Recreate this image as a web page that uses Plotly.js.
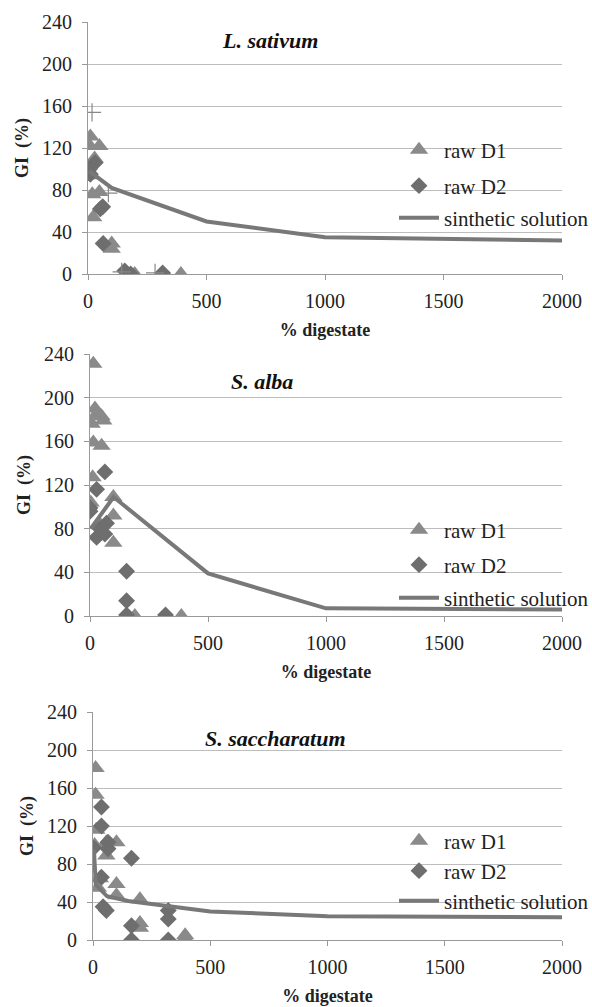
<!DOCTYPE html>
<html>
<head>
<meta charset="utf-8">
<script src="https://cdn.plot.ly/plotly-3.0.1.min.js"></script>
<style>html,body{margin:0;padding:0;background:#fff;}#chart{width:592px;height:1007px;}</style>
</head>
<body>
<div id="chart"></div>
<script>
// ---- Text ----
const panelTitles = ["L. sativum", "S. alba", "S. saccharatum"];
const seriesNames = ["raw D1", "raw D2", "sinthetic solution"];
const yTicks = [0, 40, 80, 120, 160, 200, 240];
const xTicks = [0, 500, 1000, 1500, 2000];

// ---- Panel 1: L. sativum ----
const p1_d1_x = [10, 8, 48, 28, 18, 48, 22, 12, 100, 100, 197, 392];
const p1_d1_y = [131, 122, 122, 110, 76, 78, 54, 94, 29, 24, 0, 0];
const p1_d2_x = [0, 6, 30, 62, 52, 64, 155, 180, 315, 10];
const p1_d2_y = [98, 100, 106, 64, 62, 29, 3, 0, 1, 95];
const p1_cross_x = [17, 86, 283, 142];
const p1_cross_y = [154, 77, 1, 2];
const p1_syn_x = [5, 100, 500, 1000, 2000];
const p1_syn_y = [98, 82, 50, 35, 32];

// ---- Panel 2: S. alba ----
const p2_d1_x = [14, 21, 28, 49, 56, 7, 14, 49, 11, 3, 99, 99, 99, 42, 190, 387];
const p2_d1_y = [231, 190, 185, 183, 179, 176, 159, 156, 127, 104, 109, 92, 67, 84, 0, 0];
const p2_d2_x = [63, 28, 0, 0, 28, 42, 63, 70, 155, 155, 155, 320];
const p2_d2_y = [132, 116, 99, 96, 72, 80, 75, 85, 41, 14, 1, 1];
const p2_syn_x = [3, 100, 500, 1000, 2000];
const p2_syn_y = [80, 109, 39, 7, 6];

// ---- Panel 3: S. saccharatum ----
const p3_d1_x = [11, 11, 14, 7, 57, 57, 100, 29, 21, 100, 100, 200, 200, 200, 393, 393];
const p3_d1_y = [181, 153, 116, 100, 89, 103, 103, 65, 55, 59, 47, 43, 18, 13, 5, 2];
const p3_d2_x = [36, 36, 3, 64, 64, 36, 57, 43, 164, 164, 164, 321, 321, 321];
const p3_d2_y = [140, 120, 97, 103, 96, 66, 31, 35, 86, 15, 0, 31, 22, 0];
const p3_syn_x = [4, 12, 60, 150, 500, 1000, 2000];
const p3_syn_y = [95, 58, 46, 41, 30, 25, 24];

const W = 592, H = 1007;
const triColor = '#8a8a8a', diaColor = '#6e6e6e', lineColor = '#787878';
const serif = 'Liberation Serif';

const geom = [
  [88, 562, 22, 274],
  [90, 562, 354, 616],
  [93, 562, 712, 940]
];
const legendRows = [[150, 186, 218], [530, 565, 598], [841, 871, 901]];
const titlePos = [[270, 40], [262, 382], [275, 738]];

const panels = [
  {d1x: p1_d1_x, d1y: p1_d1_y, d2x: p1_d2_x, d2y: p1_d2_y, sx: p1_syn_x, sy: p1_syn_y, cx: p1_cross_x, cy: p1_cross_y},
  {d1x: p2_d1_x, d1y: p2_d1_y, d2x: p2_d2_x, d2y: p2_d2_y, sx: p2_syn_x, sy: p2_syn_y},
  {d1x: p3_d1_x, d1y: p3_d1_y, d2x: p3_d2_x, d2y: p3_d2_y, sx: p3_syn_x, sy: p3_syn_y}
];

const traces = [];
const layout = {
  width: W, height: H,
  margin: {l: 0, r: 0, t: 0, b: 0, autoexpand: false},
  paper_bgcolor: '#fff', plot_bgcolor: '#fff',
  showlegend: true,
  font: {family: serif, size: 20, color: '#222'},
  annotations: []
};

let legIdx = 0;
function legName() { legIdx++; return legIdx === 1 ? 'legend' : 'legend' + legIdx; }

panels.forEach((p, i) => {
  const n = i === 0 ? '' : String(i + 1);
  const xa = 'x' + n, ya = 'y' + n;
  const legs = [legName(), legName(), legName()];
  traces.push({x: p.d1x, y: p.d1y, xaxis: xa, yaxis: ya, mode: 'markers', type: 'scatter', name: seriesNames[0],
    legend: legs[0], marker: {symbol: 'triangle-up', size: 16, color: triColor}});
  traces.push({x: p.d2x, y: p.d2y, xaxis: xa, yaxis: ya, mode: 'markers', type: 'scatter', name: seriesNames[1],
    legend: legs[1], marker: {symbol: 'diamond', size: 13, color: diaColor}});
  if (p.cx) {
    traces.push({x: p.cx, y: p.cy, xaxis: xa, yaxis: ya, mode: 'markers', type: 'scatter', showlegend: false,
      marker: {symbol: 'cross-thin', size: 13, line: {width: 1.2, color: '#888'}}});
  }
  traces.push({x: p.sx, y: p.sy, xaxis: xa, yaxis: ya, mode: 'lines', type: 'scatter', name: seriesNames[2],
    legend: legs[2], line: {color: lineColor, width: 4}});

  const g = geom[i];
  layout['xaxis' + n] = {
    domain: [g[0] / W, g[1] / W], anchor: ya, range: [0, 2000],
    tickvals: xTicks, ticks: 'outside', ticklen: 5, tickcolor: '#999', ticklabelstandoff: 4,
    showline: true, linecolor: '#999', linewidth: 1, showgrid: false, zeroline: false,
    tickfont: {family: serif, size: 20, color: '#222'},
    title: {text: '<b>% digestate</b>', font: {family: serif, size: 18, color: '#222'}, standoff: 12}
  };
  layout['yaxis' + n] = {
    domain: [1 - g[3] / H, 1 - g[2] / H], anchor: xa, range: [0, 240],
    tickvals: yTicks, ticks: 'outside', ticklen: 5, tickcolor: '#999', ticklabelstandoff: 6,
    showline: true, linecolor: '#999', linewidth: 1, showgrid: true, gridcolor: '#bdbdbd', gridwidth: 1,
    zeroline: false,
    tickfont: {family: serif, size: 20, color: '#222'},
    title: {text: '<b>GI  (%)</b>', font: {family: serif, size: 18, color: '#222'}, standoff: 8}
  };
  legs.forEach((lg, k) => {
    layout[lg] = {
      x: 394 / W, xanchor: 'left', y: 1 - legendRows[i][k] / H, yanchor: 'middle',
      bgcolor: 'rgba(0,0,0,0)', borderwidth: 0,
      font: {family: serif, size: 21, color: '#222'},
      itemwidth: 40
    };
  });
  layout.annotations.push({
    xref: 'paper', yref: 'paper', x: titlePos[i][0] / W, y: 1 - titlePos[i][1] / H,
    xanchor: 'center', yanchor: 'middle', showarrow: false,
    text: '<b><i>' + panelTitles[i] + '</i></b>',
    font: {family: serif, size: 22, color: '#111'}
  });
});

Plotly.newPlot('chart', traces, layout, {displayModeBar: false, staticPlot: true});
</script>
</body>
</html>
